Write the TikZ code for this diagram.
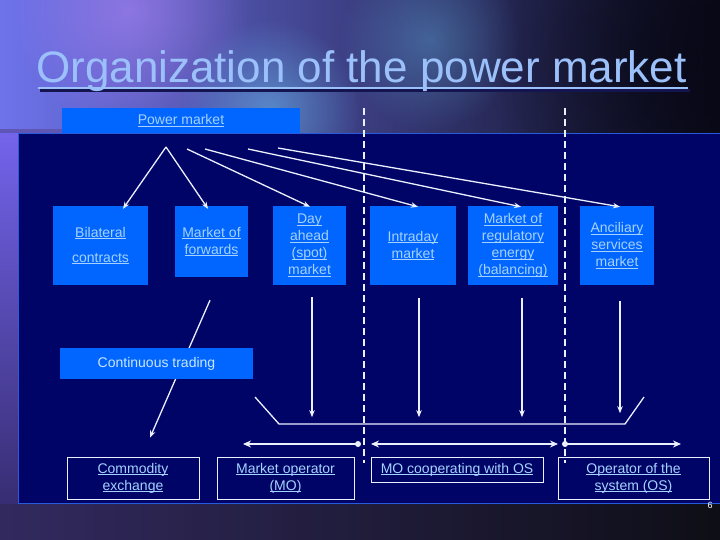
\documentclass[tikz,border=0pt]{standalone}
\usepackage{fontspec}
\setmainfont{Liberation Sans}
\usetikzlibrary{arrows.meta,calc,fadings}
\tikzfading[name=softc, inner color=transparent!0, outer color=transparent!100]
\definecolor{panel}{RGB}{0,4,102}
\definecolor{paneledge}{RGB}{40,90,220}
\definecolor{boxblue}{RGB}{0,102,255}
\definecolor{txt}{RGB}{165,210,255}
\definecolor{ctxt}{RGB}{200,230,255}
\definecolor{titlec}{RGB}{155,192,250}
\definecolor{titleshadow}{RGB}{20,20,80}
\definecolor{lin}{RGB}{235,240,255}
\definecolor{bgL}{RGB}{110,115,235}
\definecolor{bgM}{RGB}{55,80,200}
\definecolor{bgR}{RGB}{8,8,22}
\definecolor{botL}{RGB}{50,42,95}
\definecolor{botR}{RGB}{14,14,22}
\definecolor{sideT}{RGB}{115,100,235}
\definecolor{sideB}{RGB}{55,45,115}
\definecolor{blobP}{RGB}{190,140,255}
\definecolor{blobC}{RGB}{110,210,255}
\definecolor{strip}{RGB}{95,85,180}
\newcommand{\uln}[1]{\setbox0\hbox{#1}\rlap{\rule[-1.8pt]{\wd0}{0.6pt}}\box0}
\begin{document}
\begin{tikzpicture}[x=1pt,y=-1pt,
  bluebox/.style={fill=boxblue, draw=none, inner sep=0pt, align=center, text=txt, font=\fontsize{14}{17}\selectfont},
  outbox/.style={fill=panel, draw=lin, line width=0.8pt, inner sep=0pt, align=center, text=txt, font=\fontsize{14}{17}\selectfont},
  arr/.style={draw=lin, line width=1.3pt, -{Stealth[length=7pt,width=5.5pt]}},
  vline/.style={draw=lin, line width=1.3pt},
  harr/.style={draw=lin, line width=2pt},
  vdash/.style={draw=lin, line width=1.8pt, dash pattern=on 7pt off 4pt},
  dot/.style={fill=lin}]
\useasboundingbox (0,0) rectangle (720,540);
% background
\shade[left color=bgL, middle color=bgM, right color=bgR] (0,0) rectangle (720,540);
\fill[blobP, opacity=0.5, path fading=softc] (130,10) circle (120pt);
\fill[blobC, opacity=0.45, path fading=softc] (270,110) circle (90pt);
\fill[blobC, opacity=0.3, path fading=softc] (430,40) circle (90pt);
\fill[bgR, opacity=0.7, path fading=softc] (690,60) circle (200pt);
\shade[left color=botL, right color=botR] (0,503) rectangle (720,540);
\shade[top color=sideT, bottom color=sideB] (0,133) rectangle (18,503);
\fill[strip] (0,129) rectangle (62,133);
% panel
\fill[panel] (18,133) rectangle (720,503);
\draw[paneledge, line width=0.8pt] (18,503) -- (18,133) -- (720,133);
\draw[paneledge, line width=0.8pt] (18,503) -- (720,503);
% title
\draw[titleshadow, line width=2.5pt] (40,90.5) -- (690,90.5);
\node[anchor=base west, inner sep=0pt, text=titlec, font=\fontsize{44}{50}\selectfont] (title) at (36,83) {Organization of the power market};
\draw[titlec, line width=2.5pt] (38,88) -- (688,88);
% power market
\node[bluebox, minimum width=238pt, minimum height=25pt] (pm) at (181,120.5) {\uln{Power market}};
% markets
\node[bluebox, minimum width=95pt, minimum height=79pt] (bil) at (100.5,245.5) {\uln{Bilateral}\\[8pt]\uln{contracts}};
\node[bluebox, minimum width=73pt, minimum height=71pt] (fwd) at (211.5,241.5) {\uln{Market of}\\\uln{forwards}};
\node[bluebox, minimum width=73pt, minimum height=79pt] (dah) at (309.5,245.5) {\uln{Day}\\\uln{ahead}\\\uln{(spot)}\\\uln{market}};
\node[bluebox, minimum width=86pt, minimum height=79pt] (intr) at (413,245.5) {\uln{Intraday}\\\uln{market}};
\node[bluebox, minimum width=90pt, minimum height=79pt] (bal) at (513,245.5) {\uln{Market of}\\\uln{regulatory}\\\uln{energy}\\\uln{(balancing)}};
\node[bluebox, minimum width=74pt, minimum height=79pt] (anc) at (617,245.5) {\uln{Anciliary}\\\uln{services}\\\uln{market}};
% bottom boxes
\node[outbox, minimum width=132pt, minimum height=42pt] (cex) at (133,478) {\uln{Commodity}\\\uln{exchange}};
\node[outbox, minimum width=137pt, minimum height=42pt] (mo) at (285.5,478) {\uln{Market operator}\\\uln{(MO)}};
\node[outbox, minimum width=172pt, minimum height=25pt] (moc) at (457,469.5) {\uln{MO cooperating with OS}};
\node[outbox, minimum width=151pt, minimum height=42pt] (os) at (633.5,478) {\uln{Operator of the}\\\uln{system (OS)}};
% arrows from power market
\coordinate (s1) at (166,147);
\coordinate (s2) at (187,149);
\coordinate (s3) at (205,149);
\coordinate (s4) at (248,149);
\coordinate (s5) at (278,148);
\draw[arr] (s1) -- ($(bil.north)+(22.5,3)$);
\draw[arr] (s1) -- ($(fwd.north)+(-3.5,3)$);
\draw[arr] (s2) -- ($(dah.north)+(0.5,1)$);
\draw[arr] (s3) -- ($(intr.north)+(5,1)$);
\draw[arr] (s4) -- ($(bal.north)+(8,1)$);
\draw[arr] (s5) -- ($(anc.north)+(3,1)$);
% down arrows
\draw[arr] ($(fwd.south)+(-1.5,23)$) -- ($(cex.north)+(17,-19)$);
\draw[arr] ($(dah.south)+(2.5,12)$) -- ($(dah.south)+(2.5,132)$);
\draw[arr] ($(intr.south)+(6,13)$) -- ($(intr.south)+(6,132)$);
\draw[arr] ($(bal.south)+(9,13)$) -- ($(bal.south)+(9,132)$);
\draw[arr] ($(anc.south)+(3,16)$) -- ($(anc.south)+(3,128)$);
% continuous trading (over the diagonal arrow)
\node[bluebox, text=ctxt, minimum width=193pt, minimum height=31pt] (ct) at (156.5,363.5) {Continuous trading};
% bracket
\coordinate (b1) at (255,397);
\coordinate (b2) at (279,424);
\coordinate (b3) at (625,424);
\coordinate (b4) at (644,397);
\draw[vline] (b1) -- (b2) -- (b3) -- (b4);
% horizontal arrows
\coordinate (d1) at (358,444);
\coordinate (h1) at (243,444);
\coordinate (h2l) at (371,444);
\coordinate (h2r) at (558,444);
\coordinate (d2) at (565,444);
\coordinate (h3) at (681,444);
\draw[harr, -{Stealth[length=8pt,width=7pt]}] (d1) -- (h1);
\draw[harr, {Stealth[length=8pt,width=7pt]}-{Stealth[length=8pt,width=7pt]}] (h2l) -- (h2r);
\draw[harr, -{Stealth[length=8pt,width=7pt]}] (d2) -- (h3);
\fill[dot] (d1) circle (3pt);
\fill[dot] (d2) circle (3pt);
% dashed separators
\draw[vdash] (364,108) -- (364,463);
\draw[vdash] (565,108) -- (565,463);
% page number
\node[text=white, inner sep=0pt, font=\fontsize{9}{10}\selectfont] (pg) at (710,505) {6};
\end{tikzpicture}
\end{document}
